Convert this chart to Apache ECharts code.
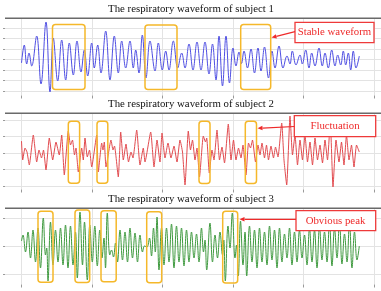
<!DOCTYPE html>
<html><head><meta charset="utf-8">
<script src="https://cdn.jsdelivr.net/npm/echarts@6/dist/echarts.min.js"></script>
<style>html,body{margin:0;padding:0;background:#fff}#c{width:381px;height:291px}</style>
</head><body><div id="c"></div>
<script>
// ---- data (time in samples, amplitude in arbitrary units) ----
const titles = ['The respiratory waveform of subject 1','The respiratory waveform of subject 2','The respiratory waveform of subject 3'];
const notes = ['Stable waveform','Fluctuation','Obvious peak'];
const subject1 = [[0,-3.5],[2.8,14.5],[5.2,-4.5],[7.5,6.5],[10.2,-6.5],[15.2,23.5],[19.5,-24.5],[24.5,37.5],[28.5,-32.5],[31.8,21.5],[36.2,-21.5],[40.2,19.5],[44.2,-20.5],[47.8,16.5],[51.8,-15.5],[55.5,18.5],[59.5,-12.5],[62.8,9.5],[66.2,-16.5],[70.2,16.5],[72.8,-8.5],[76.2,14.5],[79.5,-13.5],[84.2,28.5],[88.5,-20.5],[92.8,23.5],[96.8,-13.5],[100.2,18.5],[104.2,-8.5],[108.5,18.5],[111.8,-8.5],[114.2,9.5],[117.5,-13.5],[120.8,24.5],[124.5,-18.5],[128.5,18.5],[133.5,-11.5],[136.8,16.5],[140.8,-10.5],[144.2,8.5],[147.5,-10.5],[151.8,18.5],[156.2,-8.5],[160.2,6.5],[163.5,-8.5],[167.5,15.5],[171.5,-10.5],[175.5,17.5],[179.5,-10.5],[183.5,17.5],[187.5,-14.5],[191,15.5],[194.5,-20.5],[197.5,23.5],[201,-26.5],[204.5,23.5],[208,-23.5],[211.5,11.5],[214.5,-6.5],[217.5,7.5],[220,-4],[222.5,8.5],[226,-8.5],[229.5,10.5],[233,-13.5],[236.5,11.5],[239.5,-11.5],[243,12.5],[247,-18.5],[250.5,8.5],[253.5,-8.5],[257.5,13.5],[261.5,-8.5],[265.5,3.5],[268.5,-4.5],[270.8,8.5],[274.5,-5.5],[278.5,4.5],[280.8,-4.5],[284.2,9.5],[287.5,-8.5],[290.2,6.5],[293.5,-6.5],[297.5,11.5],[300.8,-6.5],[303.5,6.5],[306.8,-8.5],[310.2,9.5],[313.5,-6.5],[316.2,4.5],[319.2,-5.5],[321.8,8.5],[324.2,-5.5],[326.8,6.5],[329.2,-10.5],[331.8,8.5],[334.5,-8.5],[337.8,3.5]];
const subject2 = [[0,12],[1.2,-7],[3.5,5],[5.5,1],[7.8,-12],[11.8,18],[15.2,-9],[17.5,3],[20,-5],[22,3],[24.5,-17],[27.8,15],[31.2,-7],[34.5,11],[37.8,-2],[40.2,18],[42.8,-22],[46.8,22],[49,8],[51,13],[53,-2],[54.5,5],[56.8,-19],[60.2,5],[61.8,-7],[63.5,15],[65.8,-4],[68,3],[70.2,-14],[75.2,18],[76.8,-19],[80.2,10],[81.5,3],[82.8,11],[84.5,-14],[89.5,13],[91.5,3],[93,7],[96.8,-24],[99.2,21],[101.8,-7],[104.5,9],[107,-9],[109.5,1],[111.5,-5],[115.2,23],[118.5,-12],[121.8,5],[123.5,-9],[129.2,21],[132.5,-14],[135.5,13],[138.5,-9],[140.5,20],[143.5,-5],[146.5,10],[149.5,-5],[152.5,7],[155.5,-9],[158.5,13],[161,1],[163.5,-32],[166.8,22],[169,3],[171,13],[173.5,-7],[175.5,5],[178,-24],[181.8,17],[184,11],[185.2,15],[187.8,-20],[190.5,3],[192.5,-7],[195.5,23],[198,-7],[200.5,6],[203,-10],[206.8,29],[209.5,-7],[212,13],[214.5,-7],[217,5],[219.5,-5],[221.5,8],[224.5,-22],[227,10],[229,5],[231,13],[234,-9],[236.5,8],[238.5,-2],[240.5,10],[243,-5],[245,8],[247,-7],[249.5,7],[252,-5],[254,6],[256.5,-4],[260.2,30],[262.5,-7],[265.2,-32],[268.5,37],[271,-2],[273.5,18],[276,-12],[278.5,13],[281,-7],[283.5,18],[286,-9],[288.5,11],[291,-12],[293.5,15],[296,-7],[298.5,8],[301,-10],[303.5,13],[306,-7],[308.8,31],[311.5,-34],[314.5,13],[317.5,-9],[320,11],[322.5,-12],[325,18],[327.5,-7],[330,8],[332.5,-14],[335,8],[337.8,1]];
const subject3 = [[0,5],[1.5,11],[4,-6],[6.5,14],[9,-12],[11.5,16],[14,-16],[16.5,18],[19,-22],[21.8,28],[24,-9],[25.2,-2],[26.5,-35],[29,24],[31.5,-19],[34,16],[36.5,-16],[39,18],[41.5,-19],[44,21],[46.5,-22],[49,20],[51.5,-19],[54,14],[55.8,-32],[58.5,34],[61,-19],[63,24],[65.8,-34],[68.3,21],[70.8,-16],[73.3,20],[75.8,-20],[78.3,16],[80.5,-12],[82.5,8],[84,-22],[85.8,33],[88.3,-9],[90,-4],[92,-11],[94,3],[96,-16],[98.5,16],[101,-14],[103.5,14],[106,-16],[108.5,18],[111,-12],[113.5,13],[116,-16],[118.5,11],[121,-6],[123,0],[125.5,-1],[128,8],[130,-10],[132,18],[133.8,-6],[135.5,29],[137.5,-24],[140,18],[142.5,-19],[145,18],[147.5,-16],[150,22],[152.5,-22],[155,20],[157.5,-16],[160,18],[162.5,-20],[165,16],[167.5,-16],[170,14],[172.5,-12],[175,12],[177.5,-16],[180,18],[182,-6],[183.5,6],[185.2,-24],[188.5,23],[191,-16],[193.5,11],[196,-12],[198.5,14],[201,-9],[202.3,6],[203.8,-35],[206.5,20],[208.5,-2],[210.8,33],[213.5,-12],[215,1],[216.8,-30],[219,25],[221.5,-19],[223.5,14],[225.2,-30],[228,20],[230.5,-16],[233,16],[235.5,-22],[238,18],[240.5,-16],[243,14],[245.5,-19],[248,20],[250.5,-14],[253,16],[255.5,-22],[258,18],[260.5,-16],[263,12],[265.5,-12],[268,18],[270.5,-19],[273,14],[275.5,-16],[278,16],[280.5,-12],[283,11],[285.5,-19],[288,18],[290.5,-16],[293,16],[295.5,-22],[298,20],[300.5,-14],[303,14],[305.5,-16],[308,24],[310.5,-20],[313,18],[315.5,-12],[318,24],[320.5,-18],[323,12],[325.5,-16],[328,24],[330.5,-22],[333,14],[335.5,-14],[337.8,0]];
const series = [subject1, subject2, subject3];
const timeMax = 359.5, timeStep = 70.5;

// ---- layout / style ----
const panels = [
  {color:'#4f4fe3', smooth:0.4, step:10.45, nGrid:3, bgTop:28.15, top:18.5, height:77, ymin:-36, ymax:41, rule:18.3, titleY:8.8},
  {color:'#e24b4f', smooth:0.15, step:16.5, nGrid:2, bgTop:120, top:113.5, height:76, ymin:-36.5, ymax:39.5, rule:113.3, titleY:104},
  {color:'#3f9a3f', smooth:0.4, step:28.2, nGrid:1, bgTop:217.8, top:208.5, height:76, ymin:-38.5, ymax:37.5, rule:208.3, titleY:199}
];
const yellowBoxes = [
  [52.5,24.5,32.5,65],[145,25,32,64.5],[240.7,24.5,30,65],
  [68.3,121.3,11.3,62],[97,121.3,10.8,62],[199,121.3,11,62.3],[245.3,121.3,11.2,62.3],
  [38,211.3,15,71],[75,210,14.7,72.5],[101,210.7,15.2,71],[146.7,211.7,15,71],[222.7,211.3,15,71.7]
];
const noteBoxes = [
  {box:[295,22.3,79,20.4], text:[334.5,32.3], from:[295,31.7], to:[271.5,37.5]},
  {box:[294.3,115.7,81.4,21], text:[335,126.6], from:[294.3,126.5], to:[257.5,128.3]},
  {box:[296,210.7,79.7,20], text:[335.5,221.2], from:[296,219.3], to:[239.5,219.3]}
];
const gridColor = '#e3e3e3';
const serif = '"Liberation Serif","Times New Roman",serif';

const grid = [], xAxis = [], yAxis = [], seriesOpt = [], graphic = [];
panels.forEach((p, i) => {
  const bgIdx = 2*i, dIdx = 2*i+1;
  grid.push({left:5, right:0, top:p.bgTop, height:p.step*2*p.nGrid});
  grid.push({left:21.5, right:0, top:p.top, height:p.height});
  xAxis.push({gridIndex:bgIdx, type:'value', min:0, max:1, show:false});
  yAxis.push({gridIndex:bgIdx, type:'value', min:-p.step*p.nGrid, max:p.step*p.nGrid, interval:p.step,
    axisLine:{show:false}, axisLabel:{show:false},
    axisTick:{show:true, length:2, lineStyle:{color:'#9a9a9a'}},
    splitLine:{show:true, lineStyle:{color:gridColor, width:1}}});
  xAxis.push({gridIndex:dIdx, type:'value', min:0, max:timeMax, interval:timeStep,
    axisLine:{show:false, onZero:false}, axisLabel:{show:false},
    axisTick:{show:true, length:3, lineStyle:{color:'#9a9a9a'}},
    splitLine:{show:true, showMaxLine:false, lineStyle:{color:gridColor, width:1}}});
  yAxis.push({gridIndex:dIdx, type:'value', min:p.ymin, max:p.ymax, show:false});
  seriesOpt.push({type:'line', xAxisIndex:dIdx, yAxisIndex:dIdx, data:series[i], showSymbol:false,
    smooth:p.smooth, silent:true, lineStyle:{color:p.color, width:1}, z:3});
  graphic.push({type:'line', z:50, shape:{x1:5, y1:p.rule, x2:381, y2:p.rule}, style:{stroke:'#6a6a6a', lineWidth:1.6}});
  graphic.push({type:'text', z:50, x:191, y:p.titleY, style:{text:titles[i], fill:'#111', font:'10.8px '+serif,
    textAlign:'center', align:'center', textVerticalAlign:'middle', verticalAlign:'middle'}});
});
yellowBoxes.forEach(b => graphic.push({type:'rect', z:60, shape:{x:b[0], y:b[1], width:b[2], height:b[3], r:3},
  style:{fill:'none', stroke:'#f5b82a', lineWidth:1.5}}));
noteBoxes.forEach((n, i) => {
  graphic.push({type:'rect', z:70, shape:{x:n.box[0], y:n.box[1], width:n.box[2], height:n.box[3]},
    style:{fill:'#fff', stroke:'#ee3a3a', lineWidth:1.3}});
  graphic.push({type:'text', z:71, x:n.text[0], y:n.text[1], style:{text:notes[i], fill:'#ee2a2a', font:'10.8px '+serif,
    textAlign:'center', align:'center', textVerticalAlign:'middle', verticalAlign:'middle'}});
  const dx = n.to[0]-n.from[0], dy = n.to[1]-n.from[1], L = Math.hypot(dx, dy);
  const ux = dx/L, uy = dy/L, hl = 5, hw = 2.2;
  const bx = n.to[0]-ux*hl, by = n.to[1]-uy*hl;
  graphic.push({type:'line', z:70, shape:{x1:n.from[0], y1:n.from[1], x2:bx, y2:by}, style:{stroke:'#ee2a2a', lineWidth:1.2}});
  graphic.push({type:'polygon', z:70, shape:{points:[[n.to[0],n.to[1]],[bx-uy*hw, by+ux*hw],[bx+uy*hw, by-ux*hw]]},
    style:{fill:'#ee2a2a'}});
});

const chart = echarts.init(document.getElementById('c'), null, {renderer:'canvas'});
chart.setOption({animation:false, backgroundColor:'#fff', grid, xAxis, yAxis, series:seriesOpt, graphic});
</script>
</body></html>
